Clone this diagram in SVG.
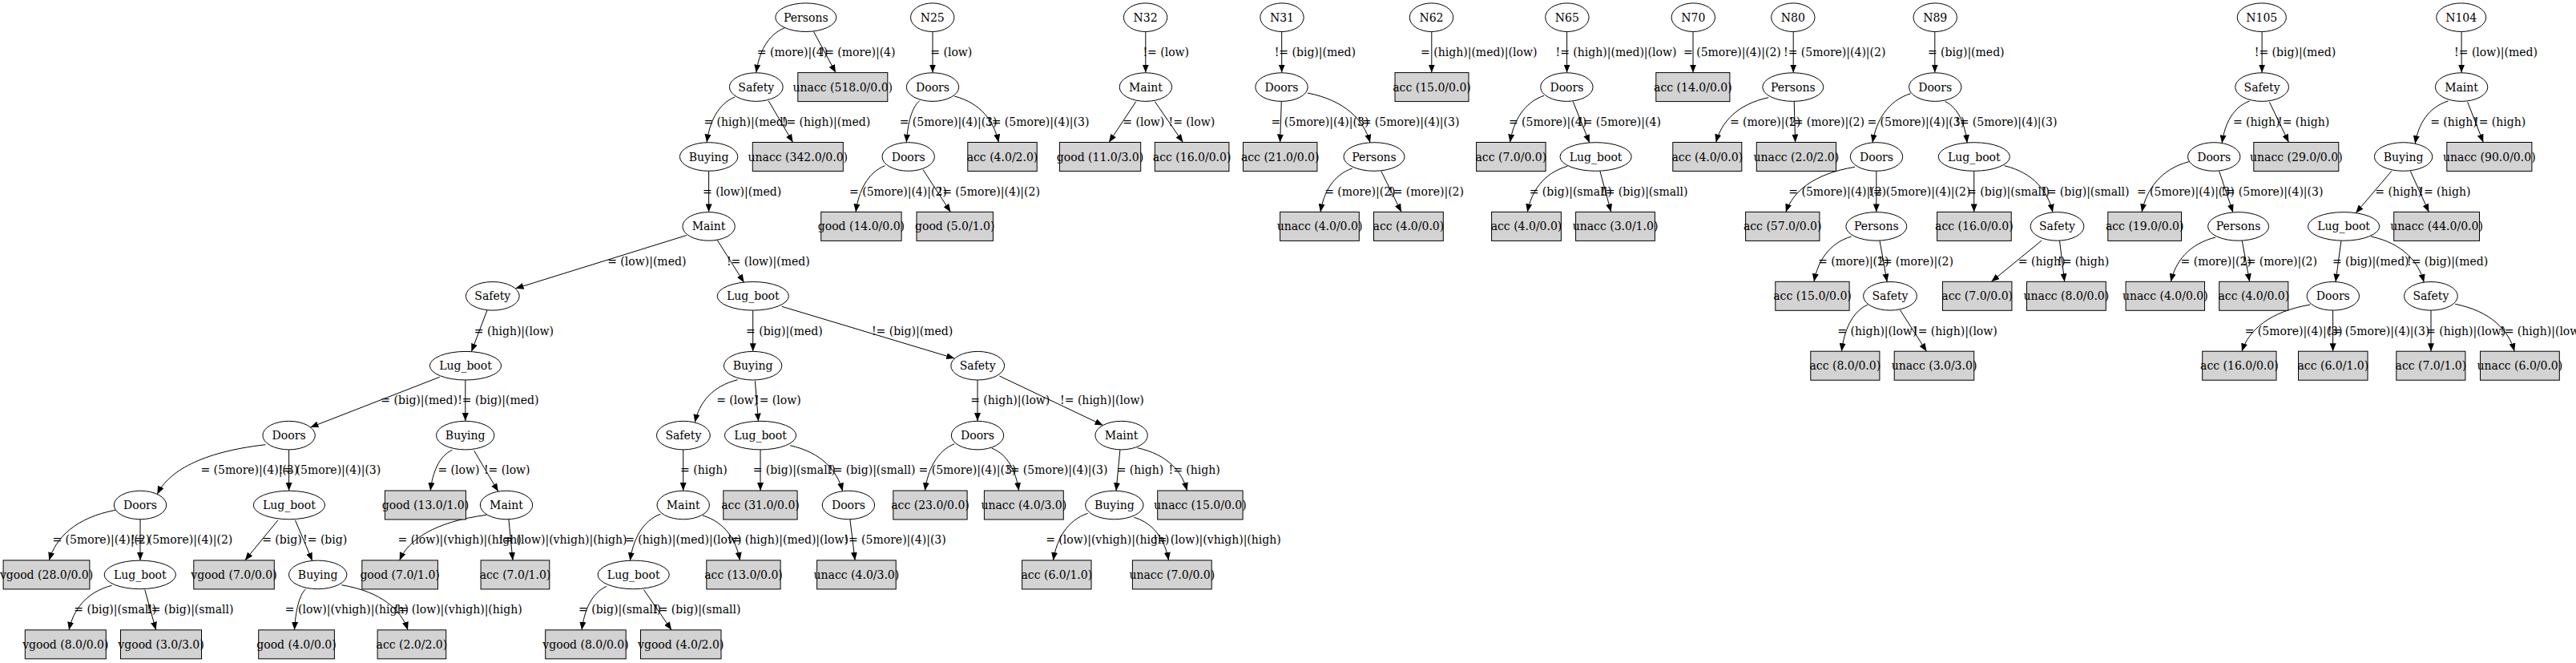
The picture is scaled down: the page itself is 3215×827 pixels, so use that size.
<svg xmlns="http://www.w3.org/2000/svg" width="3215" height="827" viewBox="0 0 3215 827">
<style>
text{font-family:"DejaVu Serif","Liberation Serif",serif;font-size:14px;fill:#000}
.n text{text-anchor:middle}
.n ellipse{fill:none;stroke:#000;stroke-width:1}
.n rect{fill:#d3d3d3;stroke:#000;stroke-width:1}
#edges path{fill:none;stroke:#000;stroke-width:1;marker-end:url(#ah)}
</style>
<defs>
<marker id="ah" markerUnits="userSpaceOnUse" markerWidth="10" markerHeight="8" viewBox="0 0 10 8" refX="10" refY="4" orient="auto"><path d="M0,0 L10,4 L0,8 Z" fill="#000"/></marker>
</defs>
<rect width="3215" height="827" fill="#fff"/>
<g id="edges">
<path d="M979,35 C957.9,43.3 947.3,65.6 943.8,90.6"/>
<path d="M1015.5,39.5 L1043,90.6"/>
<path d="M917.3,121 C896.2,129.5 885.6,152.1 882.1,177.5"/>
<path d="M959.3,126 L989.6,177.5"/>
<path d="M884.6,213.5 L884.6,264.4"/>
<path d="M857,293.5 L643.5,359.8"/>
<path d="M895.2,299.5 L928.6,352.3"/>
<path d="M608,387 L588.4,438.6"/>
<path d="M939.7,387.3 L939.7,438.2"/>
<path d="M975.8,382.3 L1191.2,447"/>
<path d="M548.8,470.3 L387.4,533"/>
<path d="M580.8,474.2 L580.8,525.1"/>
<path d="M331.3,554.7 C250.3,563.9 209.8,588.6 196.3,616.4"/>
<path d="M360.6,561.1 L360.6,612"/>
<path d="M144,636.3 C94.4,645.7 69.6,670.7 61.3,698.9"/>
<path d="M175,648 L175,698.9"/>
<path d="M346.8,649 L305.8,698.9"/>
<path d="M368.5,649 L389.8,699.4"/>
<path d="M139.5,730.3 C107.5,738.6 91.4,760.8 86.1,785.8"/>
<path d="M180.8,735.7 L194.6,785.8"/>
<path d="M381.6,734.7 C373.1,742.4 368.9,762.8 367.5,785.8"/>
<path d="M426.4,729.7 C476,738.1 500.7,760.6 509,785.8"/>
<path d="M564.3,561.3 C548,568.9 539.9,589.2 537.2,612"/>
<path d="M591.8,562.3 L621.8,613.1"/>
<path d="M607.3,642.3 C542.1,650.8 509.6,673.4 498.7,698.9"/>
<path d="M634.9,648 L640,698.9"/>
<path d="M920.7,473.7 C888.7,481.6 872.6,502.6 867.3,526.8"/>
<path d="M942.4,475.3 L946.5,525.6"/>
<path d="M852.7,561.1 L852.7,612"/>
<path d="M949,561.1 L949,612"/>
<path d="M986.1,555.7 C1025.4,564.3 1045,587.2 1051.6,612.5"/>
<path d="M824.3,641.3 C801.6,649.9 790.2,673 786.4,699.2"/>
<path d="M877,643 C904.9,651.4 918.9,673.7 923.5,698.9"/>
<path d="M1060.9,648 L1067.1,698.9"/>
<path d="M757.1,731.3 C738.5,739.5 729.2,761.3 726.1,785.8"/>
<path d="M803.6,735.7 L838.1,785.8"/>
<path d="M1220,474.2 L1220,525.1"/>
<path d="M1247.4,469 L1376.5,530.4"/>
<path d="M1191.2,553.7 C1169.1,562.4 1158.1,585.8 1154.4,612"/>
<path d="M1237.7,559 C1258,567 1268.1,588.2 1271.5,612"/>
<path d="M1397.9,561.1 L1393,612.2"/>
<path d="M1419.6,558.7 C1456.7,566.7 1475.3,588 1481.5,612"/>
<path d="M1357.6,640.3 C1331.7,649.1 1318.8,672.5 1314.5,698.9"/>
<path d="M1415.4,645.3 C1441.3,653.3 1454.2,674.8 1458.5,698.9"/>
<path d="M1164,39.7 L1164,90.6"/>
<path d="M1147.5,126 C1137.8,133.7 1132.9,154.3 1131.3,177.6"/>
<path d="M1191.2,120 C1224.3,128.6 1240.8,151.6 1246.3,177.5"/>
<path d="M1104.4,206.7 C1082.6,215.4 1071.7,238.4 1068.1,264.4"/>
<path d="M1152,211.7 L1186.4,264.4"/>
<path d="M1429.8,39.7 L1429.8,90.6"/>
<path d="M1417.8,126.6 L1384.1,177.5"/>
<path d="M1441.3,126.6 L1476.4,177.5"/>
<path d="M1599.7,39.7 L1599.7,90.6"/>
<path d="M1599.3,126.6 L1597.6,177.5"/>
<path d="M1631.9,116 C1678.8,125.2 1702.2,149.8 1710,177.8"/>
<path d="M1687.7,210 C1663.9,218.2 1652,239.9 1648,264.4"/>
<path d="M1723.8,213.5 L1749,264.4"/>
<path d="M1786.8,39.7 L1786.8,90.6"/>
<path d="M1955.6,39.7 L1955.6,90.6"/>
<path d="M1927,119.3 C1901.6,128 1888.8,151.3 1884.6,177.5"/>
<path d="M1963.2,126.6 L1983.8,178"/>
<path d="M1956.3,207.3 C1926.3,215.9 1911.3,238.7 1906.3,264.4"/>
<path d="M1996.9,213.5 L2010.7,264.4"/>
<path d="M2113,39.7 L2113,90.6"/>
<path d="M2238.2,39.7 L2238.2,90.6"/>
<path d="M2207.2,121.7 C2167.9,130.1 2148.3,152.4 2141.7,177.5"/>
<path d="M2239.2,126.6 L2240.6,177.5"/>
<path d="M2414.8,39.7 L2414.8,90.6"/>
<path d="M2384.5,116.7 C2356,125.8 2341.8,150.1 2337,177.9"/>
<path d="M2427.6,126.6 C2444.1,134.3 2452.4,154.9 2455.1,178.2"/>
<path d="M2315,208.3 C2263.4,216.7 2237.5,239.2 2228.9,264.4"/>
<path d="M2341.8,213.5 L2341.8,264.4"/>
<path d="M2463.7,213.5 L2463.7,264.4"/>
<path d="M2501.6,206.7 C2537.8,215.4 2555.9,238.5 2561.9,264.7"/>
<path d="M2310.5,295 C2282.6,303.4 2268.7,326 2264,351.3"/>
<path d="M2346,300.4 L2355.2,351.6"/>
<path d="M2548.1,300 L2485.4,351.3"/>
<path d="M2570.5,300.4 L2576.7,351.3"/>
<path d="M2331.1,380 C2311.5,388.7 2301.7,412 2298.4,438.2"/>
<path d="M2371.4,386.7 L2404.5,438.2"/>
<path d="M2823.1,39.7 L2823.1,90.6"/>
<path d="M2807.6,126 C2787,133.7 2776.6,154.3 2773.2,178.6"/>
<path d="M2832.4,127.3 L2856.5,177.5"/>
<path d="M2731.8,201.7 C2696.6,211.1 2679,236.2 2673.1,264.4"/>
<path d="M2769.7,213.5 L2786.9,265"/>
<path d="M2765.2,296 C2731.7,304.3 2715,326.4 2709.4,351.3"/>
<path d="M2798.3,300.4 L2807.6,351.3"/>
<path d="M3072.1,39.7 L3072.1,90.6"/>
<path d="M3055.5,126 C3030.7,133.8 3018.3,154.6 3014.2,179.2"/>
<path d="M3079.7,127.3 L3099.3,177.5"/>
<path d="M2984.9,213.3 L2940.2,265.7"/>
<path d="M3008.4,213.5 L3031.4,264.4"/>
<path d="M2921.9,300.4 L2915,351.6"/>
<path d="M2959.1,295 C2998.8,303.6 3018.6,326.5 3025.2,352.1"/>
<path d="M2883.4,380 C2832.2,388.7 2806.5,412 2798,438.2"/>
<path d="M2911.6,387.3 L2911.6,438.2"/>
<path d="M3034,387.3 L3034,438.2"/>
<path d="M3064.2,379.3 C3108.6,388.1 3130.8,411.7 3138.2,438.2"/>
</g>
<g id="edge-labels">
<text x="944.8" y="69.9">= (more)|(4)</text>
<text x="1023.5" y="69.9">!= (more)|(4)</text>
<text x="1161.3" y="69.9">= (low)</text>
<text x="1426.4" y="69.9">!= (low)</text>
<text x="1590.7" y="69.9">!= (big)|(med)</text>
<text x="1773.1" y="69.9">= (high)|(med)|(low)</text>
<text x="1941.5" y="69.9">!= (high)|(med)|(low)</text>
<text x="2101" y="69.9">= (5more)|(4)|(2)</text>
<text x="2226" y="69.9">!= (5more)|(4)|(2)</text>
<text x="2405.9" y="69.9">= (big)|(med)</text>
<text x="2813.8" y="69.9">!= (big)|(med)</text>
<text x="3063.1" y="69.9">!= (low)|(med)</text>
<text x="878.4" y="156.7">= (high)|(med)</text>
<text x="975.8" y="156.7">!= (high)|(med)</text>
<text x="1122.7" y="156.7">= (5more)|(4)|(3)</text>
<text x="1232" y="156.7">!= (5more)|(4)|(3)</text>
<text x="1401.3" y="156.7">= (low)</text>
<text x="1458.5" y="156.7">!= (low)</text>
<text x="1586.6" y="156.7">= (5more)|(4)|(3)</text>
<text x="1694" y="156.7">!= (5more)|(4)|(3)</text>
<text x="1882.9" y="156.7">= (5more)|(4)</text>
<text x="1970" y="156.7">!= (5more)|(4)</text>
<text x="2158.9" y="156.7">= (more)|(2)</text>
<text x="2233" y="156.7">!= (more)|(2)</text>
<text x="2330.4" y="156.7">= (5more)|(4)|(3)</text>
<text x="2440" y="156.7">!= (5more)|(4)|(3)</text>
<text x="2786.9" y="156.7">= (high)</text>
<text x="2843" y="156.7">!= (high)</text>
<text x="3033.2" y="156.7">= (high)</text>
<text x="3088" y="156.7">!= (high)</text>
<text x="877" y="243.7">= (low)|(med)</text>
<text x="1060" y="243.7">= (5more)|(4)|(2)</text>
<text x="1170.5" y="243.7">!= (5more)|(4)|(2)</text>
<text x="1653.2" y="243.7">= (more)|(2)</text>
<text x="1733" y="243.7">!= (more)|(2)</text>
<text x="1908.7" y="243.7">= (big)|(small)</text>
<text x="1998" y="243.7">!= (big)|(small)</text>
<text x="2232.3" y="243.7">= (5more)|(4)|(2)</text>
<text x="2332" y="243.7">!= (5more)|(4)|(2)</text>
<text x="2455.1" y="243.7">= (big)|(small)</text>
<text x="2549" y="243.7">!= (big)|(small)</text>
<text x="2666.9" y="243.7">= (5more)|(4)|(3)</text>
<text x="2772" y="243.7">!= (5more)|(4)|(3)</text>
<text x="2964.3" y="243.7">= (high)</text>
<text x="3019.3" y="243.7">!= (high)</text>
<text x="758.2" y="330.6">= (low)|(med)</text>
<text x="906.9" y="330.6">!= (low)|(med)</text>
<text x="2269.1" y="330.6">= (more)|(2)</text>
<text x="2344" y="330.6">!= (more)|(2)</text>
<text x="2518.8" y="330.6">= (high)</text>
<text x="2568" y="330.6">!= (high)</text>
<text x="2721.5" y="330.6">= (more)|(2)</text>
<text x="2798" y="330.6">!= (more)|(2)</text>
<text x="2910.9" y="330.6">= (big)|(med)</text>
<text x="3004" y="330.6">!= (big)|(med)</text>
<text x="591.8" y="417.5">= (high)|(low)</text>
<text x="931" y="417.5">= (big)|(med)</text>
<text x="1087.9" y="417.5">!= (big)|(med)</text>
<text x="2293.3" y="417.5">= (high)|(low)</text>
<text x="2388" y="417.5">!= (high)|(low)</text>
<text x="2801.7" y="417.5">= (5more)|(4)|(3)</text>
<text x="2905" y="417.5">!= (5more)|(4)|(3)</text>
<text x="3028" y="417.5">= (high)|(low)</text>
<text x="3120" y="417.5">!= (high)|(low)</text>
<text x="475.3" y="504.4">= (big)|(med)</text>
<text x="571.2" y="504.4">!= (big)|(med)</text>
<text x="894.2" y="504.4">= (low)</text>
<text x="942" y="504.4">!= (low)</text>
<text x="1211.2" y="504.4">= (high)|(low)</text>
<text x="1323.1" y="504.4">!= (high)|(low)</text>
<text x="250.4" y="591.3">= (5more)|(4)|(3)</text>
<text x="347.8" y="591.3">!= (5more)|(4)|(3)</text>
<text x="546.4" y="591.3">= (low)</text>
<text x="603.9" y="591.3">!= (low)</text>
<text x="849.1" y="591.3">= (high)</text>
<text x="939.7" y="591.3">= (big)|(small)</text>
<text x="1034" y="591.3">!= (big)|(small)</text>
<text x="1146.5" y="591.3">= (5more)|(4)|(3)</text>
<text x="1255" y="591.3">!= (5more)|(4)|(3)</text>
<text x="1393.7" y="591.3">= (high)</text>
<text x="1458.5" y="591.3">!= (high)</text>
<text x="65.4" y="678.2">= (5more)|(4)|(2)</text>
<text x="162.9" y="678.2">!= (5more)|(4)|(2)</text>
<text x="327.2" y="678.2">= (big)</text>
<text x="378.1" y="678.2">!= (big)</text>
<text x="496.6" y="678.2">= (low)|(vhigh)|(high)</text>
<text x="622.8" y="678.2">!= (low)|(vhigh)|(high)</text>
<text x="780.2" y="678.2">= (high)|(med)|(low)</text>
<text x="908" y="678.2">!= (high)|(med)|(low)</text>
<text x="1053.3" y="678.2">!= (5more)|(4)|(3)</text>
<text x="1305.2" y="678.2">= (low)|(vhigh)|(high)</text>
<text x="1439" y="678.2">!= (low)|(vhigh)|(high)</text>
<text x="92.3" y="765.1">= (big)|(small)</text>
<text x="183" y="765.1">!= (big)|(small)</text>
<text x="355.8" y="765.1">= (low)|(vhigh)|(high)</text>
<text x="492" y="765.1">!= (low)|(vhigh)|(high)</text>
<text x="722" y="765.1">= (big)|(small)</text>
<text x="816" y="765.1">!= (big)|(small)</text>
</g>
<g id="a1" class="n"><ellipse cx="1005.8" cy="21.7" rx="38" ry="17.8"/><text x="1005.8" y="26.7">Persons</text></g>
<g id="a2" class="n"><ellipse cx="943.8" cy="108.6" rx="33.4" ry="17.8"/><text x="943.8" y="113.6">Safety</text></g>
<g id="a3" class="n"><ellipse cx="884.6" cy="195.5" rx="36.2" ry="17.8"/><text x="884.6" y="200.5">Buying</text></g>
<g id="a4" class="n"><ellipse cx="884.6" cy="282.4" rx="32.7" ry="17.8"/><text x="884.6" y="287.4">Maint</text></g>
<g id="a5" class="n"><ellipse cx="614.8" cy="369.3" rx="33.4" ry="17.8"/><text x="614.8" y="374.3">Safety</text></g>
<g id="a6" class="n"><ellipse cx="939.8" cy="369.3" rx="44.6" ry="17.8"/><text x="939.8" y="374.3">Lug_boot</text></g>
<g id="a7" class="n"><ellipse cx="581" cy="456.2" rx="44.6" ry="17.8"/><text x="581" y="461.2">Lug_boot</text></g>
<g id="a8" class="n"><ellipse cx="360.6" cy="543.1" rx="32.7" ry="17.8"/><text x="360.6" y="548.1">Doors</text></g>
<g id="a9" class="n"><ellipse cx="580.7" cy="543.1" rx="36.2" ry="17.8"/><text x="580.7" y="548.1">Buying</text></g>
<g id="a10" class="n"><ellipse cx="175" cy="630" rx="32.7" ry="17.8"/><text x="175" y="635">Doors</text></g>
<g id="a11" class="n"><ellipse cx="360.9" cy="630" rx="44.6" ry="17.8"/><text x="360.9" y="635">Lug_boot</text></g>
<g id="a12" class="n"><ellipse cx="632" cy="630" rx="32.7" ry="17.8"/><text x="632" y="635">Maint</text></g>
<g id="a13" class="n"><ellipse cx="174.8" cy="716.9" rx="44.6" ry="17.8"/><text x="174.8" y="721.9">Lug_boot</text></g>
<g id="a14" class="n"><ellipse cx="396.7" cy="716.9" rx="36.2" ry="17.8"/><text x="396.7" y="721.9">Buying</text></g>
<g id="a15" class="n"><ellipse cx="939.6" cy="456.2" rx="36.2" ry="17.8"/><text x="939.6" y="461.2">Buying</text></g>
<g id="a16" class="n"><ellipse cx="1220.2" cy="456.2" rx="33.4" ry="17.8"/><text x="1220.2" y="461.2">Safety</text></g>
<g id="a17" class="n"><ellipse cx="852.9" cy="543.1" rx="33.4" ry="17.8"/><text x="852.9" y="548.1">Safety</text></g>
<g id="a18" class="n"><ellipse cx="949" cy="543.1" rx="44.6" ry="17.8"/><text x="949" y="548.1">Lug_boot</text></g>
<g id="a19" class="n"><ellipse cx="1220" cy="543.1" rx="32.7" ry="17.8"/><text x="1220" y="548.1">Doors</text></g>
<g id="a20" class="n"><ellipse cx="1399.6" cy="543.1" rx="32.7" ry="17.8"/><text x="1399.6" y="548.1">Maint</text></g>
<g id="a21" class="n"><ellipse cx="852.7" cy="630" rx="32.7" ry="17.8"/><text x="852.7" y="635">Maint</text></g>
<g id="a22" class="n"><ellipse cx="1058.9" cy="630" rx="32.7" ry="17.8"/><text x="1058.9" y="635">Doors</text></g>
<g id="a23" class="n"><ellipse cx="1390.8" cy="630" rx="36.2" ry="17.8"/><text x="1390.8" y="635">Buying</text></g>
<g id="a24" class="n"><ellipse cx="790.7" cy="716.9" rx="44.6" ry="17.8"/><text x="790.7" y="721.9">Lug_boot</text></g>
<g id="l1" class="n"><rect x="995.8" y="90.6" width="112" height="36"/><text x="1051.8" y="113.6">unacc (518.0/0.0)</text></g>
<g id="l2" class="n"><rect x="939.3" y="177.5" width="113" height="36"/><text x="995.8" y="200.5">unacc (342.0/0.0)</text></g>
<g id="l3" class="n"><rect x="4.1" y="698.9" width="107.8" height="36"/><text x="58" y="721.9">vgood (28.0/0.0)</text></g>
<g id="l4" class="n"><rect x="31.3" y="785.8" width="101" height="36"/><text x="81.8" y="808.8">vgood (8.0/0.0)</text></g>
<g id="l5" class="n"><rect x="150.5" y="785.8" width="101" height="36"/><text x="201" y="808.8">vgood (3.0/3.0)</text></g>
<g id="l6" class="n"><rect x="241.8" y="698.9" width="100.5" height="36"/><text x="292" y="721.9">vgood (7.0/0.0)</text></g>
<g id="l7" class="n"><rect x="322.7" y="785.8" width="94.7" height="36"/><text x="370" y="808.8">good (4.0/0.0)</text></g>
<g id="l8" class="n"><rect x="471.1" y="785.8" width="85.6" height="36"/><text x="513.9" y="808.8">acc (2.0/2.0)</text></g>
<g id="l9" class="n"><rect x="480.4" y="612" width="101" height="36"/><text x="531" y="635">good (13.0/1.0)</text></g>
<g id="l10" class="n"><rect x="451.8" y="698.9" width="94.6" height="36"/><text x="499.1" y="721.9">good (7.0/1.0)</text></g>
<g id="l11" class="n"><rect x="600.1" y="698.9" width="85.7" height="36"/><text x="643" y="721.9">acc (7.0/1.0)</text></g>
<g id="l12" class="n"><rect x="902.8" y="612" width="92.3" height="36"/><text x="949" y="635">acc (31.0/0.0)</text></g>
<g id="l13" class="n"><rect x="881.8" y="698.9" width="92.3" height="36"/><text x="928" y="721.9">acc (13.0/0.0)</text></g>
<g id="l14" class="n"><rect x="1019.6" y="698.9" width="98.6" height="36"/><text x="1068.9" y="721.9">unacc (4.0/3.0)</text></g>
<g id="l15" class="n"><rect x="680.7" y="785.8" width="100.5" height="36"/><text x="731" y="808.8">vgood (8.0/0.0)</text></g>
<g id="l16" class="n"><rect x="799.5" y="785.8" width="100.5" height="36"/><text x="849.7" y="808.8">vgood (4.0/2.0)</text></g>
<g id="l17" class="n"><rect x="1114.8" y="612" width="92.3" height="36"/><text x="1161" y="635">acc (23.0/0.0)</text></g>
<g id="l18" class="n"><rect x="1228.4" y="612" width="98.9" height="36"/><text x="1277.8" y="635">unacc (4.0/3.0)</text></g>
<g id="l19" class="n"><rect x="1444.7" y="612" width="106.4" height="36"/><text x="1497.9" y="635">unacc (15.0/0.0)</text></g>
<g id="l20" class="n"><rect x="1275.6" y="698.9" width="86.4" height="36"/><text x="1318.8" y="721.9">acc (6.0/1.0)</text></g>
<g id="l21" class="n"><rect x="1413.4" y="698.9" width="98.8" height="36"/><text x="1462.8" y="721.9">unacc (7.0/0.0)</text></g>
<g id="n25" class="n"><ellipse cx="1163.7" cy="21.7" rx="27.2" ry="17.8"/><text x="1163.7" y="26.7">N25</text></g>
<g id="n25-doors" class="n"><ellipse cx="1164" cy="108.6" rx="32.7" ry="17.8"/><text x="1164" y="113.6">Doors</text></g>
<g id="n25-doors2" class="n"><ellipse cx="1133.7" cy="195.5" rx="32.7" ry="17.8"/><text x="1133.7" y="200.5">Doors</text></g>
<g id="n25-l1" class="n"><rect x="1207.8" y="177.5" width="86.4" height="36"/><text x="1251" y="200.5">acc (4.0/2.0)</text></g>
<g id="n25-l2" class="n"><rect x="1024.7" y="264.4" width="100.4" height="36"/><text x="1074.9" y="287.4">good (14.0/0.0)</text></g>
<g id="n25-l3" class="n"><rect x="1144" y="264.4" width="95.4" height="36"/><text x="1191.7" y="287.4">good (5.0/1.0)</text></g>
<g id="n32" class="n"><ellipse cx="1429.6" cy="21.7" rx="27.2" ry="17.8"/><text x="1429.6" y="26.7">N32</text></g>
<g id="n32-maint" class="n"><ellipse cx="1429.9" cy="108.6" rx="32.7" ry="17.8"/><text x="1429.9" y="113.6">Maint</text></g>
<g id="n32-l1" class="n"><rect x="1322.4" y="177.5" width="101.3" height="36"/><text x="1373" y="200.5">good (11.0/3.0)</text></g>
<g id="n32-l2" class="n"><rect x="1441.3" y="177.5" width="92.6" height="36"/><text x="1487.6" y="200.5">acc (16.0/0.0)</text></g>
<g id="n31" class="n"><ellipse cx="1600" cy="21.7" rx="27.2" ry="17.8"/><text x="1600" y="26.7">N31</text></g>
<g id="n31-doors" class="n"><ellipse cx="1599.5" cy="108.6" rx="32.7" ry="17.8"/><text x="1599.5" y="113.6">Doors</text></g>
<g id="n31-l1" class="n"><rect x="1551.5" y="177.5" width="92.4" height="36"/><text x="1597.7" y="200.5">acc (21.0/0.0)</text></g>
<g id="n31-persons" class="n"><ellipse cx="1715" cy="195.5" rx="38" ry="17.8"/><text x="1715" y="200.5">Persons</text></g>
<g id="n31-l2" class="n"><rect x="1597.6" y="264.4" width="98.7" height="36"/><text x="1647" y="287.4">unacc (4.0/0.0)</text></g>
<g id="n31-l3" class="n"><rect x="1714.5" y="264.4" width="86.8" height="36"/><text x="1757.9" y="287.4">acc (4.0/0.0)</text></g>
<g id="n62" class="n"><ellipse cx="1786.5" cy="21.7" rx="27.2" ry="17.8"/><text x="1786.5" y="26.7">N62</text></g>
<g id="n62-l1" class="n"><rect x="1741" y="90.6" width="92" height="36"/><text x="1787" y="113.6">acc (15.0/0.0)</text></g>
<g id="n65" class="n"><ellipse cx="1955.9" cy="21.7" rx="27.2" ry="17.8"/><text x="1955.9" y="26.7">N65</text></g>
<g id="n65-doors" class="n"><ellipse cx="1955.4" cy="108.6" rx="32.7" ry="17.8"/><text x="1955.4" y="113.6">Doors</text></g>
<g id="n65-l1" class="n"><rect x="1842.6" y="177.5" width="86.5" height="36"/><text x="1885.8" y="200.5">acc (7.0/0.0)</text></g>
<g id="n65-lug" class="n"><ellipse cx="1991.6" cy="195.5" rx="44.6" ry="17.8"/><text x="1991.6" y="200.5">Lug_boot</text></g>
<g id="n65-l2" class="n"><rect x="1861.6" y="264.4" width="86.8" height="36"/><text x="1905" y="287.4">acc (4.0/0.0)</text></g>
<g id="n65-l3" class="n"><rect x="1966.6" y="264.4" width="98.8" height="36"/><text x="2016" y="287.4">unacc (3.0/1.0)</text></g>
<g id="n70" class="n"><ellipse cx="2113.3" cy="21.7" rx="27.2" ry="17.8"/><text x="2113.3" y="26.7">N70</text></g>
<g id="n70-l1" class="n"><rect x="2066.8" y="90.6" width="92.1" height="36"/><text x="2112.9" y="113.6">acc (14.0/0.0)</text></g>
<g id="n80" class="n"><ellipse cx="2237.8" cy="21.7" rx="27.2" ry="17.8"/><text x="2237.8" y="26.7">N80</text></g>
<g id="n80-persons" class="n"><ellipse cx="2237.8" cy="108.6" rx="38" ry="17.8"/><text x="2237.8" y="113.6">Persons</text></g>
<g id="n80-l1" class="n"><rect x="2087.8" y="177.5" width="86" height="36"/><text x="2130.8" y="200.5">acc (4.0/0.0)</text></g>
<g id="n80-l2" class="n"><rect x="2192.3" y="177.5" width="99.2" height="36"/><text x="2241.9" y="200.5">unacc (2.0/2.0)</text></g>
<g id="n89" class="n"><ellipse cx="2415.2" cy="21.7" rx="27.2" ry="17.8"/><text x="2415.2" y="26.7">N89</text></g>
<g id="n89-doors" class="n"><ellipse cx="2415.2" cy="108.6" rx="32.7" ry="17.8"/><text x="2415.2" y="113.6">Doors</text></g>
<g id="n89-doors2" class="n"><ellipse cx="2342" cy="195.5" rx="32.7" ry="17.8"/><text x="2342" y="200.5">Doors</text></g>
<g id="n89-lug" class="n"><ellipse cx="2463.8" cy="195.5" rx="44.6" ry="17.8"/><text x="2463.8" y="200.5">Lug_boot</text></g>
<g id="n89-l1" class="n"><rect x="2178.6" y="264.4" width="92.3" height="36"/><text x="2224.7" y="287.4">acc (57.0/0.0)</text></g>
<g id="n89-persons" class="n"><ellipse cx="2341.8" cy="282.4" rx="38" ry="17.8"/><text x="2341.8" y="287.4">Persons</text></g>
<g id="n89-l2" class="n"><rect x="2417.6" y="264.4" width="92.6" height="36"/><text x="2463.9" y="287.4">acc (16.0/0.0)</text></g>
<g id="n89-safety" class="n"><ellipse cx="2567.5" cy="282.4" rx="33.4" ry="17.8"/><text x="2567.5" y="287.4">Safety</text></g>
<g id="n89-l3" class="n"><rect x="2215.8" y="351.3" width="92.3" height="36"/><text x="2262" y="374.3">acc (15.0/0.0)</text></g>
<g id="n89-safety2" class="n"><ellipse cx="2359" cy="369.3" rx="33.4" ry="17.8"/><text x="2359" y="374.3">Safety</text></g>
<g id="n89-l4" class="n"><rect x="2424.5" y="351.3" width="86.4" height="36"/><text x="2467.7" y="374.3">acc (7.0/0.0)</text></g>
<g id="n89-l5" class="n"><rect x="2529.5" y="351.3" width="98.8" height="36"/><text x="2578.9" y="374.3">unacc (8.0/0.0)</text></g>
<g id="n89-l6" class="n"><rect x="2259.8" y="438.2" width="86.1" height="36"/><text x="2302.8" y="461.2">acc (8.0/0.0)</text></g>
<g id="n89-l7" class="n"><rect x="2364.2" y="438.2" width="99.5" height="36"/><text x="2414" y="461.2">unacc (3.0/3.0)</text></g>
<g id="n105" class="n"><ellipse cx="2822.8" cy="21.7" rx="30.6" ry="17.8"/><text x="2822.8" y="26.7">N105</text></g>
<g id="n105-safety" class="n"><ellipse cx="2823.1" cy="108.6" rx="33.4" ry="17.8"/><text x="2823.1" y="113.6">Safety</text></g>
<g id="n105-doors" class="n"><ellipse cx="2763.2" cy="195.5" rx="32.7" ry="17.8"/><text x="2763.2" y="200.5">Doors</text></g>
<g id="n105-l1" class="n"><rect x="2812.8" y="177.5" width="106" height="36"/><text x="2865.8" y="200.5">unacc (29.0/0.0)</text></g>
<g id="n105-l2" class="n"><rect x="2630.8" y="264.4" width="91.7" height="36"/><text x="2676.7" y="287.4">acc (19.0/0.0)</text></g>
<g id="n105-persons" class="n"><ellipse cx="2793.6" cy="282.4" rx="38" ry="17.8"/><text x="2793.6" y="287.4">Persons</text></g>
<g id="n105-l3" class="n"><rect x="2653.1" y="351.3" width="98.4" height="36"/><text x="2702.3" y="374.3">unacc (4.0/0.0)</text></g>
<g id="n105-l4" class="n"><rect x="2769.7" y="351.3" width="86.1" height="36"/><text x="2812.8" y="374.3">acc (4.0/0.0)</text></g>
<g id="n104" class="n"><ellipse cx="3071.7" cy="21.7" rx="31" ry="17.8"/><text x="3071.7" y="26.7">N104</text></g>
<g id="n104-maint" class="n"><ellipse cx="3072.1" cy="108.6" rx="32.7" ry="17.8"/><text x="3072.1" y="113.6">Maint</text></g>
<g id="n104-buying" class="n"><ellipse cx="2999.6" cy="195.5" rx="36.2" ry="17.8"/><text x="2999.6" y="200.5">Buying</text></g>
<g id="n104-l1" class="n"><rect x="3053.8" y="177.5" width="106.1" height="36"/><text x="3106.8" y="200.5">unacc (90.0/0.0)</text></g>
<g id="n104-lug" class="n"><ellipse cx="2925.1" cy="282.4" rx="44.6" ry="17.8"/><text x="2925.1" y="287.4">Lug_boot</text></g>
<g id="n104-l2" class="n"><rect x="2987.7" y="264.4" width="106.8" height="36"/><text x="3041.1" y="287.4">unacc (44.0/0.0)</text></g>
<g id="n104-doors" class="n"><ellipse cx="2911.8" cy="369.3" rx="32.7" ry="17.8"/><text x="2911.8" y="374.3">Doors</text></g>
<g id="n104-safety" class="n"><ellipse cx="3033.9" cy="369.3" rx="33.4" ry="17.8"/><text x="3033.9" y="374.3">Safety</text></g>
<g id="n104-l3" class="n"><rect x="2748.7" y="438.2" width="92.3" height="36"/><text x="2794.9" y="461.2">acc (16.0/0.0)</text></g>
<g id="n104-l4" class="n"><rect x="2868.5" y="438.2" width="86.5" height="36"/><text x="2911.8" y="461.2">acc (6.0/1.0)</text></g>
<g id="n104-l5" class="n"><rect x="2990.8" y="438.2" width="86.1" height="36"/><text x="3033.9" y="461.2">acc (7.0/1.0)</text></g>
<g id="n104-l6" class="n"><rect x="3095.5" y="438.2" width="98.8" height="36"/><text x="3144.9" y="461.2">unacc (6.0/0.0)</text></g>
</svg>
